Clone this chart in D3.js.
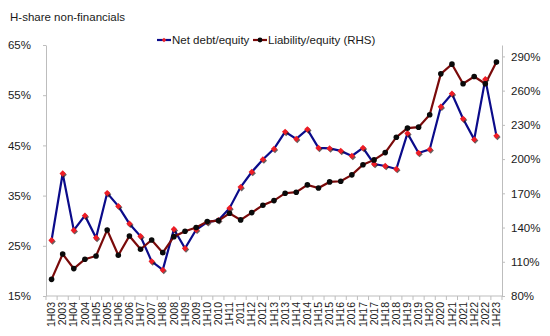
<!DOCTYPE html>
<html>
<head>
<meta charset="utf-8">
<script src="https://cdn.jsdelivr.net/npm/d3@7/dist/d3.min.js"></script>
<style>
  html, body { margin: 0; padding: 0; background: #fff; }
  svg { display: block; font-family: "Liberation Sans", Arial, sans-serif; }
</style>
</head>
<body>
<svg id="chart" width="550" height="336"></svg>
<script>
// Half-year and year-end periods
const periods = [
  "1H03","2003","1H04","2004","1H05","2005","1H06","2006","1H07","2007",
  "1H08","2008","1H09","2009","1H10","2010","1H11","2011","1H12","2012",
  "1H13","2013","1H14","2014","1H15","2015","1H16","2016","1H17","2017",
  "1H18","2018","1H19","2019","1H20","2020","1H21","2021","1H22","2022","1H23"
];

// Net debt / equity, % (left axis)
const netDebtEquity = [
  26.1, 39.4, 28.1, 31.0, 26.6, 35.5, 32.9, 29.4, 26.9, 21.9,
  20.2, 28.3, 24.5, 28.2, 29.7, 30.1, 32.5, 36.7, 39.7, 42.2,
  44.3, 47.7, 46.3, 48.2, 44.5, 44.4, 43.9, 42.9, 44.5, 41.3,
  40.9, 40.3, 47.4, 43.5, 44.2, 52.7, 55.3, 50.3, 46.2, 58.2, 46.9
];

// Liability / equity, % (right axis)
const liabilityEquity = [
  94.6, 116.8, 104.0, 112.2, 115.1, 137.9, 115.7, 132.6, 121.0, 129.1,
  118.0, 132.0, 136.8, 140.0, 145.2, 146.1, 152.5, 146.7, 153.1, 159.6,
  163.6, 170.1, 171.0, 177.4, 174.7, 180.0, 180.6, 186.2, 195.0, 199.3,
  205.7, 219.2, 227.1, 228.0, 238.8, 274.7, 283.2, 266.0, 272.4, 266.0, 285.0
];

const leftTicks = [15, 25, 35, 45, 55, 65];
const rightTicks = [80, 110, 140, 170, 200, 230, 260, 290];

const svg = d3.select("#chart");
const plot = { left: 46, right: 502, top: 45, bottom: 296 };
const axisColor = "#bdbdbd";
const textColor = "#1a1a1a";

const x = d3.scaleBand().domain(periods).range([plot.left, plot.right]);
const yL = d3.scaleLinear().domain([15, 65]).range([plot.bottom, plot.top]);
const yR = d3.scaleLinear().domain([80, 300]).range([plot.bottom, plot.top]);
const cx = d => x(d) + x.bandwidth() / 2;

// Title
svg.append("text")
  .attr("x", 10).attr("y", 21)
  .attr("font-size", 11.5).attr("fill", textColor)
  .text("H-share non-financials");

// Left axis
const gL = svg.append("g").attr("transform", `translate(${plot.left},0)`)
  .call(d3.axisLeft(yL).tickValues(leftTicks).tickSize(3).tickSizeOuter(0).tickPadding(12)
    .tickFormat(d => d + "%"));
gL.select(".domain").attr("stroke", axisColor);
gL.selectAll(".tick line").attr("stroke", axisColor);
gL.selectAll("text").attr("font-size", 11.5).attr("fill", textColor)
  .attr("font-family", "Liberation Sans, Arial, sans-serif");

// Right axis
const gR = svg.append("g").attr("transform", `translate(${plot.right},0)`)
  .call(d3.axisRight(yR).tickValues(rightTicks).tickSize(3).tickSizeOuter(0).tickPadding(6)
    .tickFormat(d => d + "%"));
gR.select(".domain").attr("stroke", axisColor);
gR.selectAll(".tick line").attr("stroke", axisColor);
gR.selectAll("text").attr("font-size", 11.5).attr("fill", textColor)
  .attr("font-family", "Liberation Sans, Arial, sans-serif");

// Category axis: ticks sit between categories
const gX = svg.append("g").attr("transform", `translate(0,${plot.bottom})`);
gX.append("line")
  .attr("x1", plot.left).attr("x2", plot.right)
  .attr("stroke", axisColor);
const bounds = periods.map(p => x(p)).concat([plot.right]);
gX.selectAll("line.tk").data(bounds).join("line")
  .attr("class", "tk")
  .attr("x1", d => d).attr("x2", d => d)
  .attr("y1", 0).attr("y2", 4)
  .attr("stroke", axisColor);
gX.selectAll("text").data(periods).join("text")
  .attr("transform", d => `translate(${cx(d) + 3.6},6) rotate(-90)`)
  .attr("text-anchor", "end")
  .attr("font-size", 10.5)
  .attr("fill", textColor)
  .text(d => d);

// Series lines
const lineL = d3.line().x((d, i) => cx(periods[i])).y(d => yL(d));
const lineR = d3.line().x((d, i) => cx(periods[i])).y(d => yR(d));

const netColor = "#0b0b8a";
const liabColor = "#7a0a0a";

svg.append("path").datum(netDebtEquity)
  .attr("d", lineL).attr("fill", "none")
  .attr("stroke", netColor).attr("stroke-width", 2.2);

svg.append("path").datum(liabilityEquity)
  .attr("d", lineR).attr("fill", "none")
  .attr("stroke", liabColor).attr("stroke-width", 2.2);

// Markers: red diamonds with a faint dark drop shadow, black dots
const diamond = d3.symbol().type(d3.symbolSquare).size(20);
const drawDiamond = (g, px, py) => {
  g.append("path").attr("d", diamond)
    .attr("transform", `translate(${px + 1},${py + 1.2}) rotate(45)`)
    .attr("fill", "#2a1a1a").attr("opacity", 0.7);
  g.append("path").attr("d", diamond)
    .attr("transform", `translate(${px},${py}) rotate(45)`)
    .attr("fill", "#ee1c25");
};
const gNet = svg.append("g");
netDebtEquity.forEach((d, i) => drawDiamond(gNet, cx(periods[i]), yL(d)));

svg.append("g").selectAll("circle").data(liabilityEquity).join("circle")
  .attr("cx", (d, i) => cx(periods[i]))
  .attr("cy", d => yR(d))
  .attr("r", 2.8)
  .attr("fill", "#0a0a0a");

// Legend
const legend = svg.append("g").attr("font-size", 11.5).attr("fill", textColor);
const items = [
  { label: "Net debt/equity", x: 157, line: netColor, marker: "diamond" },
  { label: "Liability/equity (RHS)", x: 253, line: liabColor, marker: "circle" }
];
items.forEach(it => {
  const g = legend.append("g").attr("transform", `translate(${it.x},40)`);
  g.append("line").attr("x1", 0).attr("x2", 14).attr("y1", 0).attr("y2", 0)
    .attr("stroke", it.line).attr("stroke-width", 2.2);
  if (it.marker === "diamond") {
    g.append("path").attr("d", d3.symbol().type(d3.symbolSquare).size(10))
      .attr("transform", "translate(7,0) rotate(45)").attr("fill", "#ee1c25");
  } else {
    g.append("circle").attr("cx", 7).attr("cy", 0).attr("r", 2.4).attr("fill", "#0a0a0a");
  }
  g.append("text").attr("x", 15).attr("y", 4).attr("fill", textColor).text(it.label);
});
</script>
</body>
</html>
